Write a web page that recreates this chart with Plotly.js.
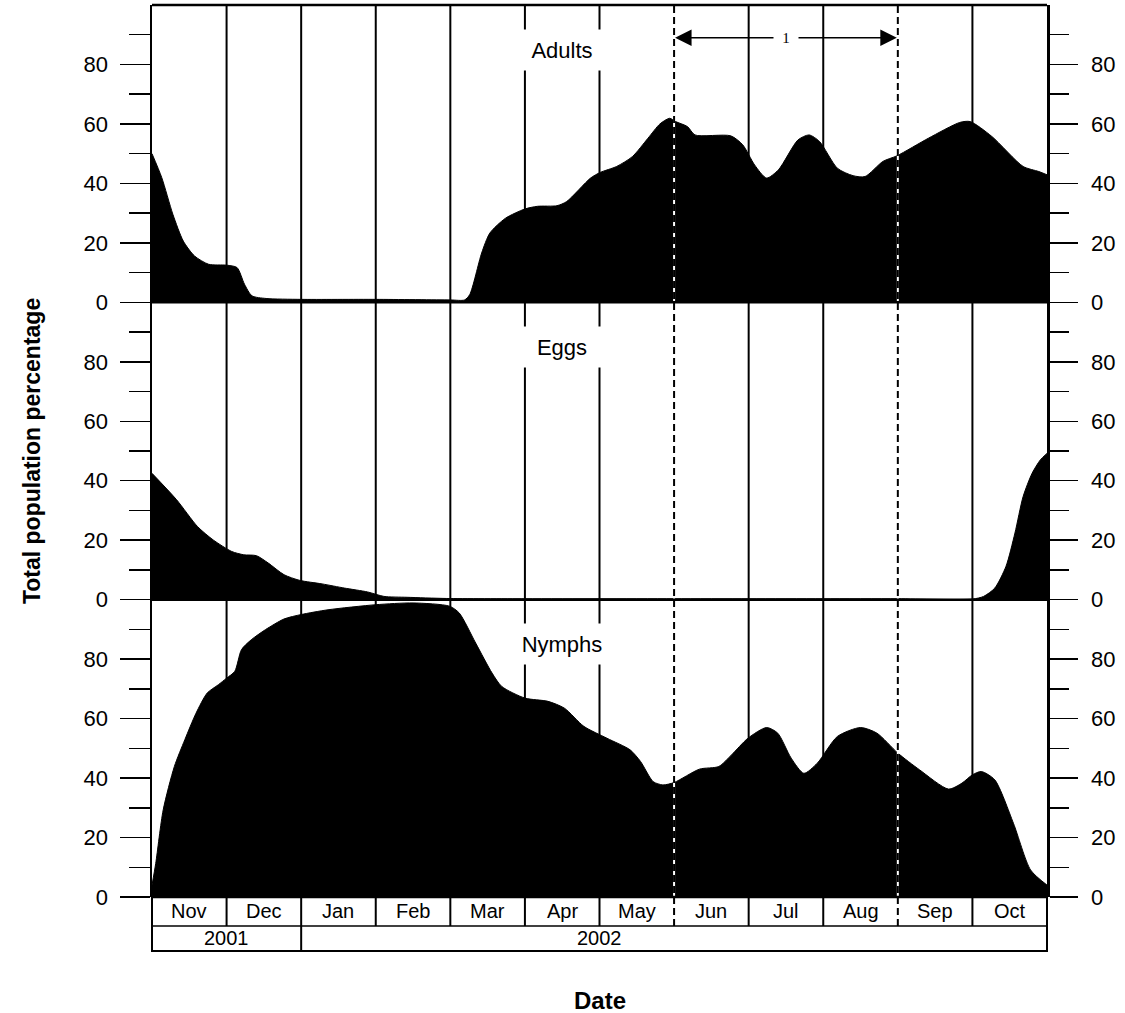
<!DOCTYPE html>
<html>
<head>
<meta charset="utf-8">
<script src="https://cdn.plot.ly/plotly-3.0.1.min.js"></script>
<style>html,body{margin:0;padding:0;background:#fff}#chart{width:1125px;height:1013px}</style>
</head>
<body>
<div id="chart"></div>
<script>
// ---- data (x in month units: 0 = start of Nov 2001, 12 = end of Oct 2002) ----
const monthLabels = ['Nov','Dec','Jan','Feb','Mar','Apr','May','Jun','Jul','Aug','Sep','Oct'];
const yearLabels = ['2001','2002'];
const yearMonths = [2, 10];
const panelNames = ['Adults','Eggs','Nymphs'];
const tickValues = [0,20,40,60,80];
const minorTickValues = [10,30,50,70,90];
const periodLabel = '1';
const periodStartMonth = 7;  // start of Jun
const periodEndMonth = 10;   // start of Sep

const adultsX = [0,0.13,0.28,0.42,0.57,0.76,1.0,1.14,1.24,1.34,1.53,2.0,3.0,4.0,4.19,4.26,4.42,4.53,4.74,5.0,5.17,5.43,5.56,5.88,6.01,6.23,6.44,6.65,6.81,6.94,7.02,7.18,7.28,7.76,7.92,8.08,8.24,8.4,8.66,8.81,8.95,9.19,9.4,9.56,9.8,9.99,10.41,10.83,10.97,11.26,11.68,11.89,12.0];
const adultsY = [50,42,29.6,20.6,15.6,12.8,12.5,11.7,6.1,2.2,1.3,1,1,0.8,0.8,2.6,16.6,23.3,28.3,31.4,32.3,32.5,33.9,41.8,43.7,45.7,49,55.2,60,61.9,60.8,59.1,56.3,56,53,46.2,41.8,44.6,54.6,56.3,54.1,45.1,42.6,42.3,47.4,49.3,55.2,60.5,60.8,55.8,45.7,44,42.9];

const eggsX = [0,0.33,0.61,0.82,1.07,1.23,1.4,1.56,1.77,1.98,2.28,2.58,2.89,3.11,3.42,3.95,5,6,7,8,9,10,11.0,11.15,11.3,11.45,11.57,11.68,11.8,11.91,12.0];
const eggsY = [42.5,33.6,24.6,20.1,16.2,15.1,14.8,12.3,8.4,6.5,5.3,3.9,2.6,1.1,0.8,0.4,0.3,0.3,0.3,0.3,0.3,0.3,0.2,1.1,3.9,11.2,22.4,34.7,42.5,47,49.2];

const nymphsX = [0,0.05,0.15,0.3,0.44,0.59,0.74,0.89,1.0,1.11,1.2,1.33,1.52,1.77,2.0,2.36,3.0,3.5,3.99,4.12,4.34,4.56,4.69,5.0,5.31,5.53,5.79,6.1,6.41,6.55,6.72,6.85,7.0,7.34,7.6,7.77,7.99,8.24,8.39,8.57,8.74,8.92,9.19,9.5,9.72,10.0,10.29,10.68,10.86,11.0,11.12,11.3,11.55,11.78,12.0];
const nymphsY = [4,11.3,29.3,43.9,52.9,61.8,68.6,71.4,73.6,75.9,83.2,86.5,89.9,93.5,95,96.6,98.3,98.9,97.8,95.5,85.4,75.3,70.8,66.9,65.8,63.5,57.4,53.4,49.5,45.6,38.8,37.7,38.5,43,43.9,47.8,53.4,57,55.1,46.7,41.6,45,54,57,55.1,48.4,42.8,36.3,38.3,41.1,42.2,39.4,24.8,9.1,4];

// ---- styling / layout ----
const FONT = 'Arial, "Liberation Sans", sans-serif';
const nMonths = monthLabels.length;
const monthRowBottom = -0.0325;
const yearRowBottom = -0.0605;

function areaTrace(x, y, yax) {
  return {x: x, y: y, yaxis: yax, type: 'scatter', mode: 'lines',
          line: {color: '#000', width: 1, shape: 'spline', smoothing: 0.7},
          fill: 'tozeroy', fillcolor: '#000', hoverinfo: 'skip', showlegend: false, cliponaxis: true};
}
function ghostTrace(x, y, yax) {
  return {x: x, y: y, yaxis: yax, type: 'scatter', mode: 'lines',
          line: {width: 0}, opacity: 0, hoverinfo: 'skip', showlegend: false};
}
function yAxis(domain, side, overlay) {
  const right = side === 'right';
  const ax = {
    domain: domain, range: [0, 100], side: side, anchor: 'x',
    tickmode: 'array', tickvals: tickValues, ticktext: tickValues.map(String),
    ticks: 'outside', ticklen: right ? 28 : 30, tickwidth: 1.5, tickcolor: '#000',
    ticklabelstandoff: right ? 9 : 7,
    minor: {tickmode: 'array', tickvals: minorTickValues, ticks: 'outside',
            ticklen: right ? 19 : 21, tickwidth: 1.5, tickcolor: '#000'},
    showgrid: false, zeroline: false, showline: true, linecolor: '#000', linewidth: 2.5,
    tickfont: {family: FONT, size: 22, color: '#000'}, fixedrange: true
  };
  if (overlay) ax.overlaying = overlay;
  return ax;
}

const traces = [
  areaTrace(nymphsX, nymphsY, 'y'),
  areaTrace(eggsX, eggsY, 'y2'),
  areaTrace(adultsX, adultsY, 'y3'),
  ghostTrace(nymphsX, nymphsY, 'y4'),
  ghostTrace(eggsX, eggsY, 'y5'),
  ghostTrace(adultsX, adultsY, 'y6')
];

const shapes = [];
const annotations = [];

// month separators
for (let i = 1; i < nMonths; i++) {
  const dashed = (i === periodStartMonth || i === periodEndMonth);
  if (dashed) {
    shapes.push({type: 'line', xref: 'x', yref: 'paper', x0: i, x1: i, y0: monthRowBottom, y1: 1,
                 line: {color: '#fff', width: 2}, layer: 'above'});
    shapes.push({type: 'line', xref: 'x', yref: 'paper', x0: i, x1: i, y0: monthRowBottom, y1: 1,
                 line: {color: '#000', width: 2, dash: '7px,4px'}, layer: 'above'});
  } else {
    shapes.push({type: 'line', xref: 'x', yref: 'paper', x0: i, x1: i, y0: monthRowBottom, y1: 1,
                 line: {color: '#000', width: 2}, layer: 'above'});
  }
}
// panel borders
[0, 1/3, 2/3, 1].forEach(function (yy) {
  shapes.push({type: 'line', xref: 'paper', yref: 'paper', x0: 0, x1: 1, y0: yy, y1: yy,
               line: {color: '#000', width: 2.5}, layer: 'above'});
});
// month row + year row boxes
shapes.push({type: 'rect', xref: 'paper', yref: 'paper', x0: 0, x1: 1, y0: yearRowBottom, y1: 0,
             line: {color: '#000', width: 2}, layer: 'above'});
shapes.push({type: 'line', xref: 'paper', yref: 'paper', x0: 0, x1: 1, y0: monthRowBottom, y1: monthRowBottom,
             line: {color: '#000', width: 1.5}, layer: 'above'});
let acc = 0;
yearLabels.forEach(function (lab, k) {
  if (k > 0) {
    shapes.push({type: 'line', xref: 'x', yref: 'paper', x0: acc, x1: acc, y0: yearRowBottom, y1: monthRowBottom,
                 line: {color: '#000', width: 2}, layer: 'above'});
  }
  acc += yearMonths[k];
});
monthLabels.forEach(function (m, i) {
  annotations.push({xref: 'x', yref: 'paper', x: i + 0.5, y: monthRowBottom / 2, text: m, showarrow: false,
                    font: {family: FONT, size: 20, color: '#000'}, xanchor: 'center', yanchor: 'middle'});
});
// year labels: 2001 centred on its months, 2002 centred on the plot
const yearY = (monthRowBottom + yearRowBottom) / 2;
annotations.push({xref: 'x', yref: 'paper', x: yearMonths[0] / 2, y: yearY, xanchor: 'center', yanchor: 'middle',
                  text: yearLabels[0], showarrow: false, font: {family: FONT, size: 20, color: '#000'}});
annotations.push({xref: 'paper', yref: 'paper', x: 0.5, y: yearY, xanchor: 'center', yanchor: 'middle',
                  text: yearLabels[1], showarrow: false, font: {family: FONT, size: 20, color: '#000'}});

// panel labels with white boxes
['y3', 'y2', 'y'].forEach(function (yr, k) {
  annotations.push({xref: 'x', yref: yr, x: 5.5, y: 85, text: panelNames[k], showarrow: false,
                    bgcolor: '#fff', width: 86, height: 40, borderpad: 0,
                    font: {family: FONT, size: 22, color: '#000'}});
});

// period arrow
const mid = (periodStartMonth + periodEndMonth) / 2;
[periodStartMonth, periodEndMonth].forEach(function (xe) {
  annotations.push({xref: 'x', yref: 'y3', x: xe, y: 89, axref: 'x', ayref: 'y3', ax: mid, ay: 89,
                    text: '', showarrow: true, arrowhead: 2, arrowsize: 2.2, arrowwidth: 1.5,
                    arrowcolor: '#000', standoff: 1});
});
annotations.push({xref: 'x', yref: 'y3', x: mid, y: 89, text: periodLabel, showarrow: false,
                  bgcolor: '#fff', width: 24, height: 16, borderpad: 0,
                  font: {family: '"Liberation Serif", "Times New Roman", serif', size: 15, color: '#000'}});

// axis titles
annotations.push({xref: 'paper', yref: 'paper', x: -0.134, y: 0.5, text: '<b>Total population percentage</b>',
                  textangle: -90, showarrow: false, xanchor: 'center', yanchor: 'middle',
                  font: {family: FONT, size: 23, color: '#000'}});
annotations.push({xref: 'paper', yref: 'paper', x: 0.5, y: -0.1155, text: '<b>Date</b>',
                  showarrow: false, xanchor: 'center', yanchor: 'middle',
                  font: {family: FONT, size: 24, color: '#000'}});

const layout = {
  width: 1125, height: 1013,
  margin: {l: 152, r: 78, t: 5, b: 116},
  paper_bgcolor: '#fff', plot_bgcolor: '#fff',
  showlegend: false,
  xaxis: {range: [0, nMonths], showticklabels: false, ticks: '', showgrid: false, zeroline: false,
          showline: false, fixedrange: true},
  yaxis: yAxis([0, 1/3], 'left'),
  yaxis2: yAxis([1/3, 2/3], 'left'),
  yaxis3: yAxis([2/3, 1], 'left'),
  yaxis4: yAxis([0, 1/3], 'right', 'y'),
  yaxis5: yAxis([1/3, 2/3], 'right', 'y2'),
  yaxis6: yAxis([2/3, 1], 'right', 'y3'),
  shapes: shapes,
  annotations: annotations
};

Plotly.newPlot('chart', traces, layout, {staticPlot: true, displayModeBar: false});
</script>
</body>
</html>
